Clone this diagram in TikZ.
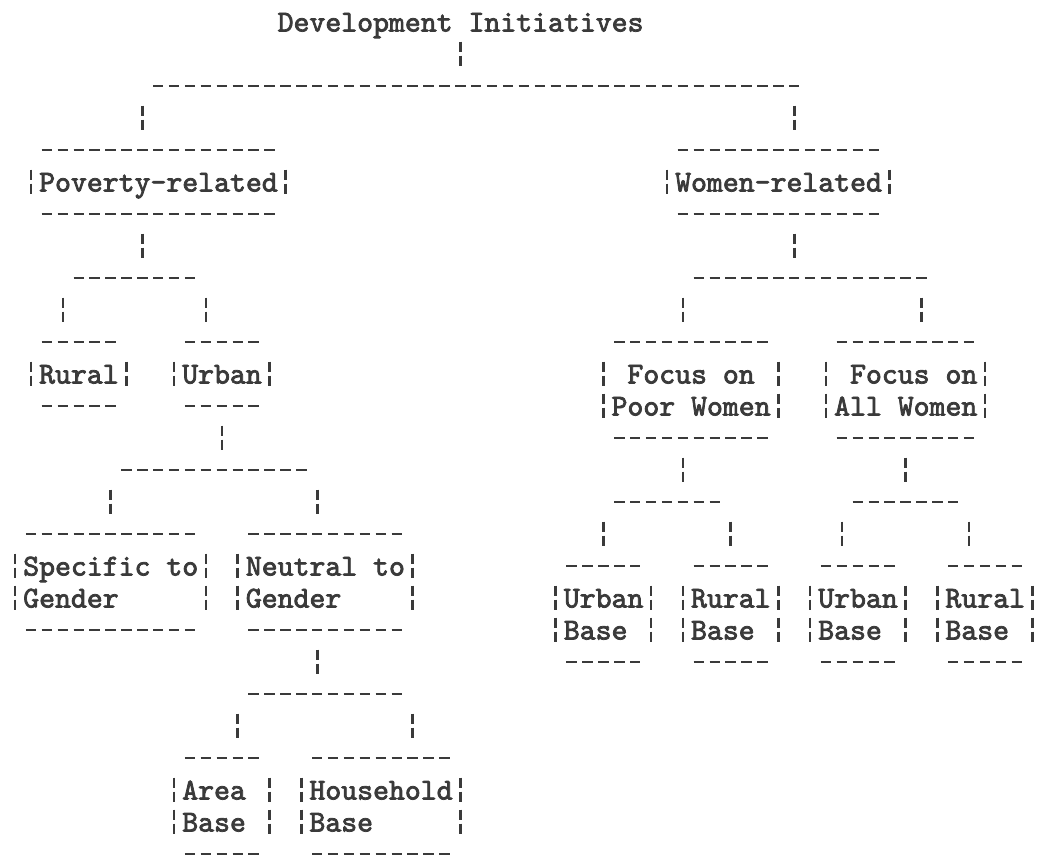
\documentclass[tikz,border=0pt]{standalone}
\usepackage{fontspec}
\newfontfamily\tw[FakeBold=2.5]{lmmono10-regular.otf}
\definecolor{ink}{HTML}{3A3A3A}
% a row of typewriter dashes from column #1 to column #2 on row #3
\newcommand\dashseg[3]{\draw[dashrow] (#1-0.327,#3) -- (#2+0.327,#3);}
% a broken bar at column #1, row #2
\newcommand\brkbar[2]{\draw[brk] (#1,#2) ++(0,12.5pt) -- ++(0,-10pt) ++(0,-4pt) -- ++(0,-10.5pt);}
\begin{document}
\begin{tikzpicture}[x=15.9pt,y=-32pt,
  txt/.style={font=\tw\fontsize{30.3}{32}\selectfont, text=ink, inner sep=0pt, anchor=base west, yshift=-9.5pt},
  dashrow/.style={draw=ink, line width=2.4pt, dash pattern=on 10.4pt off 5.5pt},
  brk/.style={draw=ink, line width=2.6pt}]
\fill[white] (-1.9497,-0.6875) rectangle (63.459,26);
\useasboundingbox (-1.9497,-0.6875) rectangle (63.459,26);

% ---- texts
\node[txt] (title) at (15.5,0) {Development Initiatives};
\node[txt] (pov)   at (0.5,5)  {Poverty-related};
\node[txt] (wom)   at (40.5,5) {Women-related};
\node[txt] (rur)   at (0.5,11) {Rural};
\node[txt] (urb)   at (9.5,11) {Urban};
\node[txt] (poorA) at (37.5,11) {Focus on};
\node[txt] (poorB) at (36.5,12) {Poor Women};
\node[txt] (allA)  at (51.5,11) {Focus on};
\node[txt] (allB)  at (50.5,12) {All Women};
\node[txt] (specA) at (-0.5,17) {Specific to};
\node[txt] (specB) at (-0.5,18) {Gender};
\node[txt] (neutA) at (13.5,17) {Neutral to};
\node[txt] (neutB) at (13.5,18) {Gender};
\node[txt] (ub1A)  at (33.5,18) {Urban};
\node[txt] (ub1B)  at (33.5,19) {Base};
\node[txt] (rb1A)  at (41.5,18) {Rural};
\node[txt] (rb1B)  at (41.5,19) {Base};
\node[txt] (ub2A)  at (49.5,18) {Urban};
\node[txt] (ub2B)  at (49.5,19) {Base};
\node[txt] (rb2A)  at (57.5,18) {Rural};
\node[txt] (rb2B)  at (57.5,19) {Base};
\node[txt] (areaA) at (9.5,24)  {Area};
\node[txt] (areaB) at (9.5,25)  {Base};
\node[txt] (hhA)   at (17.5,24) {Household};
\node[txt] (hhB)   at (17.5,25) {Base};

% ---- top level
\brkbar{27}{1}
\dashseg{8}{48}{2}
\brkbar{7}{3} \brkbar{48}{3}

% ---- Poverty-related box
\dashseg{1}{15}{4} \dashseg{1}{15}{6}
\brkbar{0}{5} \brkbar{16}{5}
% ---- Women-related box
\dashseg{41}{53}{4} \dashseg{41}{53}{6}
\brkbar{40}{5} \brkbar{54}{5}

% ---- Poverty branch
\brkbar{7}{7}
\dashseg{3}{10}{8}
\brkbar{2}{9} \brkbar{11}{9}
\dashseg{1}{5}{10} \dashseg{1}{5}{12}
\brkbar{0}{11} \brkbar{6}{11}
\dashseg{10}{14}{10} \dashseg{10}{14}{12}
\brkbar{9}{11} \brkbar{15}{11}

% ---- Urban branch
\brkbar{12}{13}
\dashseg{6}{17}{14}
\brkbar{5}{15} \brkbar{18}{15}
\dashseg{0}{10}{16} \dashseg{0}{10}{19}
\brkbar{-1}{17} \brkbar{11}{17} \brkbar{-1}{18} \brkbar{11}{18}
\dashseg{14}{23}{16} \dashseg{14}{23}{19}
\brkbar{13}{17} \brkbar{24}{17} \brkbar{13}{18} \brkbar{24}{18}

% ---- Neutral branch
\brkbar{18}{20}
\dashseg{14}{23}{21}
\brkbar{13}{22} \brkbar{24}{22}
\dashseg{10}{14}{23} \dashseg{10}{14}{26}
\brkbar{9}{24} \brkbar{15}{24} \brkbar{9}{25} \brkbar{15}{25}
\dashseg{18}{26}{23} \dashseg{18}{26}{26}
\brkbar{17}{24} \brkbar{27}{24} \brkbar{17}{25} \brkbar{27}{25}

% ---- Women branch
\brkbar{48}{7}
\dashseg{42}{56}{8}
\brkbar{41}{9} \brkbar{56}{9}
\dashseg{37}{46}{10} \dashseg{37}{46}{13}
\brkbar{36}{11} \brkbar{47}{11} \brkbar{36}{12} \brkbar{47}{12}
\dashseg{51}{59}{10} \dashseg{51}{59}{13}
\brkbar{50}{11} \brkbar{60}{11} \brkbar{50}{12} \brkbar{60}{12}

% ---- Poor women branch
\brkbar{41}{14}
\dashseg{37}{43}{15}
\brkbar{36}{16} \brkbar{44}{16}
% ---- All women branch
\brkbar{55}{14}
\dashseg{52}{58}{15}
\brkbar{51}{16} \brkbar{59}{16}

% ---- base boxes
\dashseg{34}{38}{17} \dashseg{34}{38}{20}
\brkbar{33}{18} \brkbar{39}{18} \brkbar{33}{19} \brkbar{39}{19}
\dashseg{42}{46}{17} \dashseg{42}{46}{20}
\brkbar{41}{18} \brkbar{47}{18} \brkbar{41}{19} \brkbar{47}{19}
\dashseg{50}{54}{17} \dashseg{50}{54}{20}
\brkbar{49}{18} \brkbar{55}{18} \brkbar{49}{19} \brkbar{55}{19}
\dashseg{58}{62}{17} \dashseg{58}{62}{20}
\brkbar{57}{18} \brkbar{63}{18} \brkbar{57}{19} \brkbar{63}{19}
\end{tikzpicture}
\end{document}
